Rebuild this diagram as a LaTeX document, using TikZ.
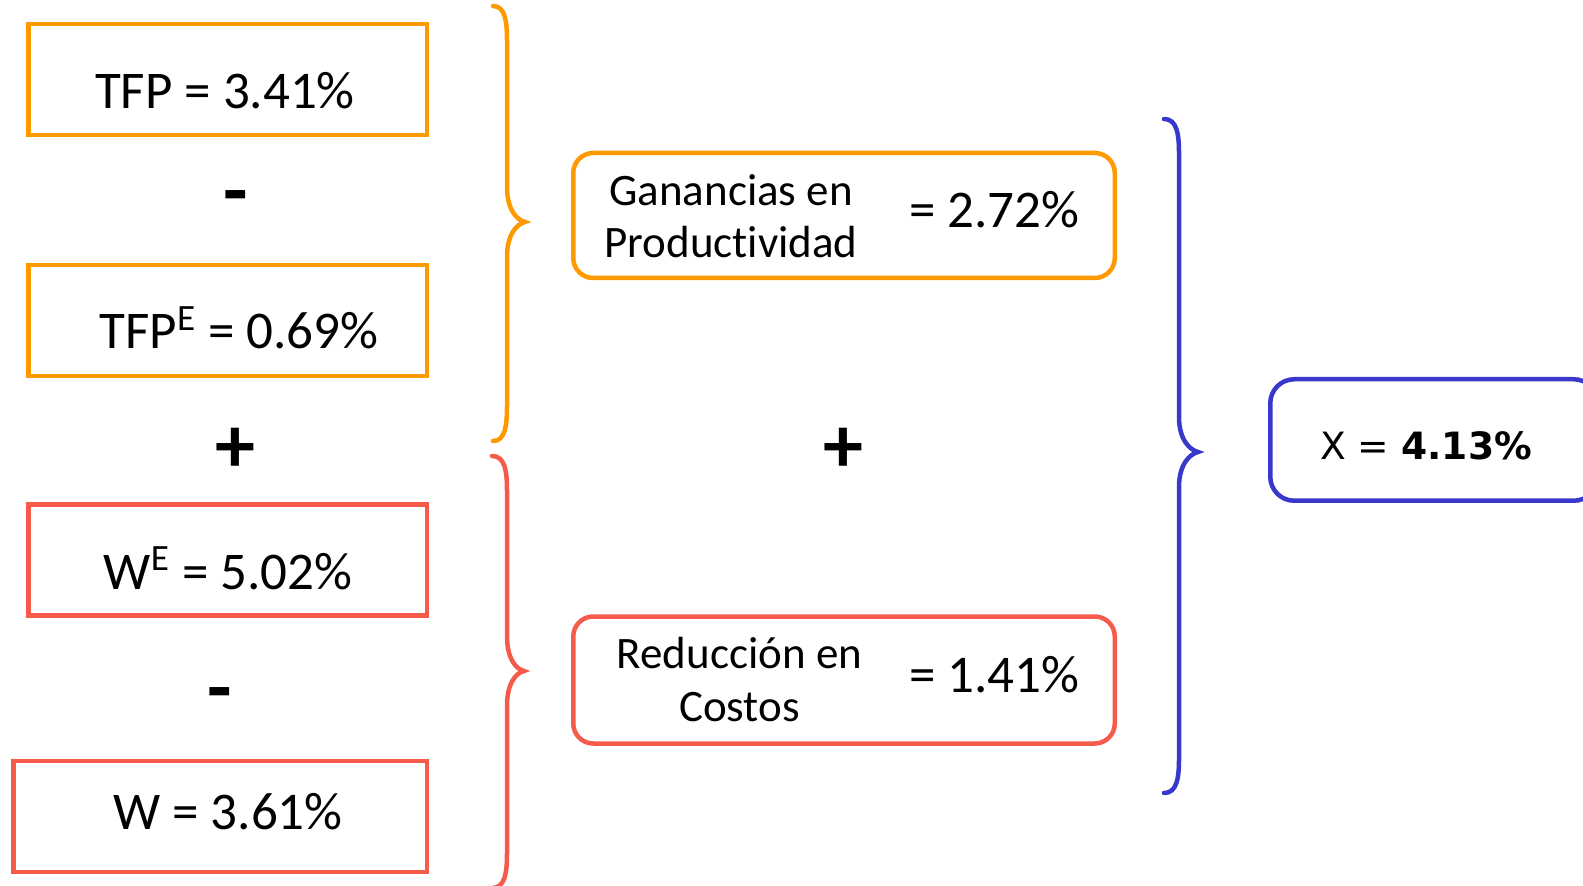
\documentclass[tikz,border=0pt]{standalone}
\usepackage{fontspec}
\setmainfont[RawFeature={-liga;-dlig}]{Carlito}
\newfontfamily\djv{DejaVu Sans}
\definecolor{cOr}{RGB}{255,153,0}
\definecolor{cRd}{RGB}{245,91,75}
\definecolor{cBl}{RGB}{56,56,204}
\newcommand\mybrace[7]{%
  \draw[bracestyle,#1] (#2,#5) .. controls ({#3-2},#5) and (#3,{#5+15}) .. (#3,{#5+35})
    -- (#3,{#6-35}) .. controls (#3,{#6-12}) and ({#4-8},{#6-2}) .. (#4,#6)
    .. controls ({#4-8},{#6+2}) and (#3,{#6+12}) .. (#3,{#6+35})
    -- (#3,{#7-35}) .. controls (#3,{#7-15}) and ({#3-2},#7) .. (#2,#7);}
\begin{document}
\begin{tikzpicture}[x=0.5pt,y=-0.5pt,
  sqbox/.style={draw,line width=2.25pt,rectangle,inner sep=0pt,minimum height=55.5pt},
  rdbox/.style={draw,line width=2.25pt,rectangle,rounded corners=10pt,inner sep=0pt},
  bigtxt/.style={anchor=base,inner sep=0pt,font=\fontsize{26.5pt}{30pt}\selectfont},
  medtxt/.style={anchor=base,inner sep=0pt,font=\fontsize{22.5pt}{26pt}\selectfont},
  optxt/.style={anchor=center,inner sep=0pt,font=\fontsize{40pt}{44pt}\selectfont\bfseries},
  bracestyle/.style={line width=2.25pt,line cap=round}]
\useasboundingbox (0,0) rectangle (1583,886);
\clip (0,0) rectangle (1583,886);
% left boxes
\node[sqbox,draw=cOr,minimum width=199.25pt] (b1) at (227.5,79.5) {};
\node[sqbox,draw=cOr,minimum width=199.25pt] (b2) at (227.5,320.5) {};
\node[sqbox,draw=cRd,minimum width=199.25pt] (b3) at (227.5,560) {};
\node[sqbox,draw=cRd,minimum width=206.75pt] (b4) at (220,816.5) {};
\node[bigtxt] (t1) at (225,109) {TFP = 3.41\%};
\node[bigtxt] (t2) at (239,349) {TFP\textsuperscript{E} = 0.69\%};
\node[bigtxt] (t3) at (228,589) {W\textsuperscript{E} = 5.02\%};
\node[bigtxt] (t4) at (228,829) {W = 3.61\%};
% operators
\node[optxt] (m1) at (236,204) {-};
\node[optxt] (p1) at (235.5,450) {+};
\node[optxt] (m2) at (220,701) {-};
\node[optxt] (p2) at (843.5,450) {+};
% braces
\mybrace{cOr}{493}{507}{525}{6}{222}{441}
\mybrace{cRd}{492}{507}{524}{456}{671}{888}
\mybrace{cBl}{1164}{1179}{1198}{119}{452}{793}
% middle boxes
\node[rdbox,draw=cOr,minimum width=270.75pt,minimum height=62.5pt] (g) at (844,215.5) {};
\node[medtxt] (g1) at (731,206) {Ganancias en};
\node[medtxt] (g2) at (731,258) {Productividad};
\node[bigtxt] (g3) at (994.5,228) {= 2.72\%};
\node[rdbox,draw=cRd,minimum width=270.75pt,minimum height=63.5pt] (r) at (844,680) {};
\node[medtxt] (r1) at (739.5,668) {Reducción en};
\node[medtxt] (r2) at (739.5,721) {Costos};
\node[bigtxt] (r3) at (994.5,692) {= 1.41\%};
% result
\node[rdbox,draw=cBl,minimum width=163.75pt,minimum height=60.75pt,rounded corners=12pt] (x) at (1434,440) {};
\node[anchor=base,inner sep=0pt,font=\djv\fontsize{18.8pt}{22pt}\selectfont] (xt) at (1426,460) {X = \textbf{4.13\%}};
\end{tikzpicture}
\end{document}
